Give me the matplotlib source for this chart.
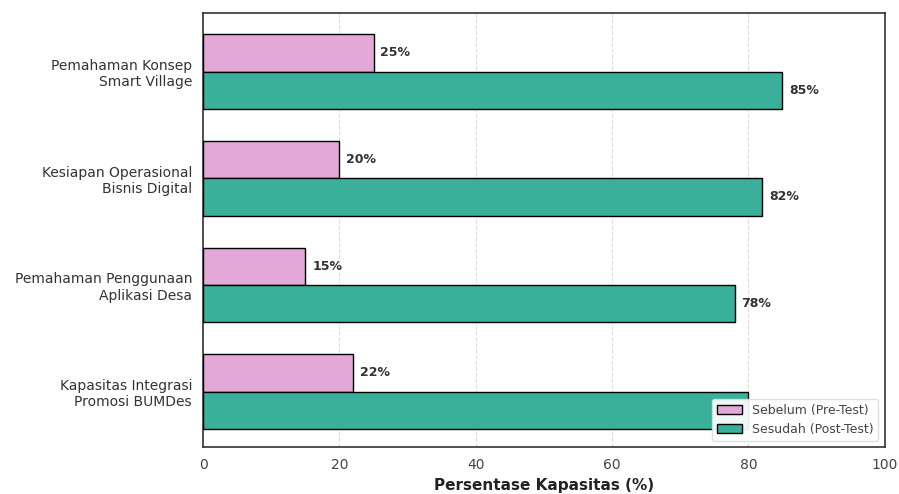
import matplotlib.pyplot as plt
import numpy as np

# datos
kategori = ["Pemahaman Konsep\nSmart Village",
            "Kesiapan Operasional\nBisnis Digital",
            "Pemahaman Penggunaan\nAplikasi Desa",
            "Kapasitas Integrasi\nPromosi BUMDes"]
sebelum = [25, 20, 15, 22]
sesudah = [85, 82, 78, 80]

fig = plt.figure(figsize=(8.99, 4.94), dpi=100)
ax = fig.add_axes([0.226, 0.095, 0.758, 0.879])

y = np.arange(len(kategori))
h = 0.35

b1 = ax.barh(y - h/2, sebelum, h, color="#e3a8d8", edgecolor="black", linewidth=1,
             label="Sebelum (Pre-Test)", zorder=3)
b2 = ax.barh(y + h/2, sesudah, h, color="#3aaf9a", edgecolor="black", linewidth=1,
             label="Sesudah (Post-Test)", zorder=3)

for bars in (b1, b2):
    for b in bars:
        w = b.get_width()
        ax.text(w + 1, b.get_y() + b.get_height()/2, f"{w:.0f}%",
                va="center", ha="left", fontsize=9, fontweight="bold", color="#333333",
                zorder=4)

ax.set_yticks(y)
ax.set_yticklabels(kategori, fontsize=10, color="#333333")
ax.set_ylim(3.52, -0.55)
ax.set_xlim(0, 100)
ax.set_xticks([0, 20, 40, 60, 80, 100])
ax.tick_params(axis="x", labelsize=10, colors="#444444", length=0, pad=8)
ax.tick_params(axis="y", length=0, pad=8)
ax.set_xlabel("Persentase Kapasitas (%)", fontsize=11, fontweight="bold", color="#222222")
ax.xaxis.grid(True, linestyle="--", color="#dddddd", linewidth=0.8, zorder=0)
for s in ax.spines.values():
    s.set_color("#333333")
    s.set_linewidth(1.2)

leg = ax.legend(loc="lower right", fontsize=9, framealpha=0.92, edgecolor="#dddddd")
leg.set_zorder(10)
for t in leg.get_texts():
    t.set_color("#444444")

fig.savefig("out.png", dpi=100)
